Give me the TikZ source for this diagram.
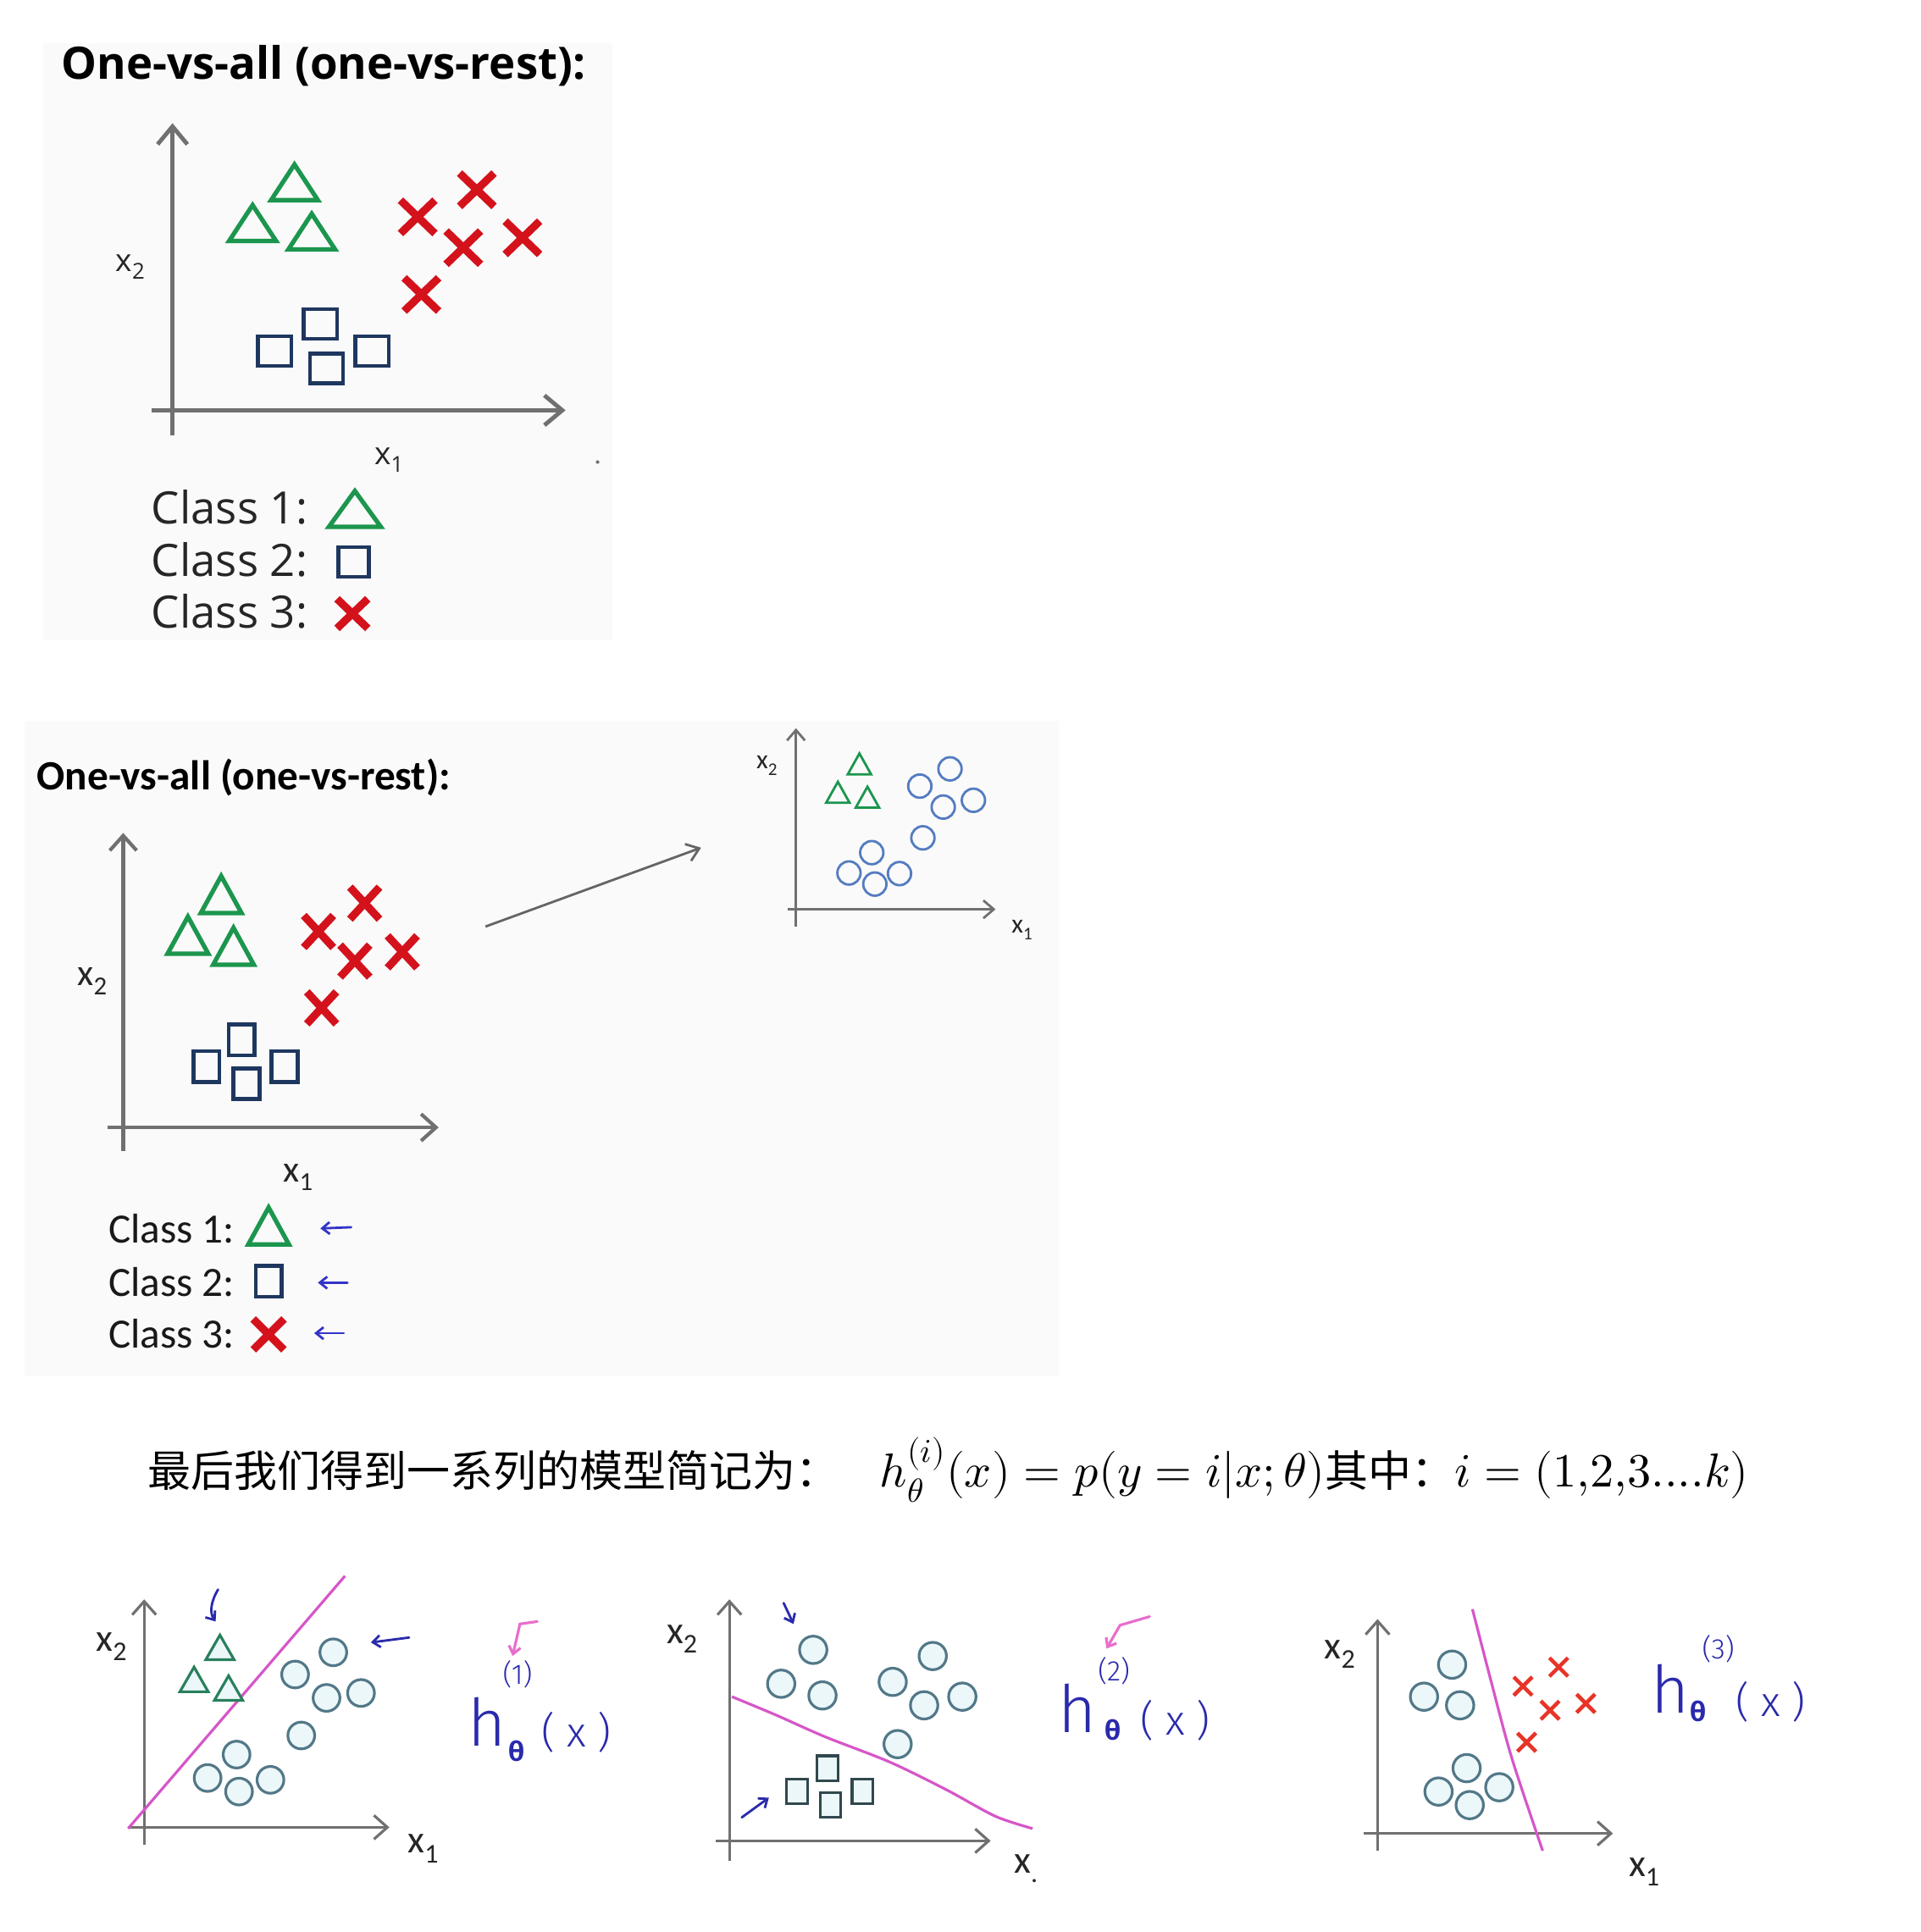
\documentclass[tikz,border=0pt]{standalone}
\usepackage{fontspec}
\usepackage{unicode-math}
\setmathfont{Latin Modern Math}
\newfontfamily\osans{Open Sans}
\newfontfamily\carl{Carlito}
\newfontfamily\cjk{Noto Sans CJK SC}
\newfontfamily\hand{Fira Sans Light}
\usetikzlibrary{arrows.meta}
\definecolor{bgc}{RGB}{250,250,250}
\definecolor{axc}{RGB}{112,112,112}
\definecolor{grn}{RGB}{28,150,78}
\definecolor{rd}{RGB}{212,18,28}
\definecolor{nvy}{RGB}{30,55,95}
\definecolor{cblue}{RGB}{84,124,192}
\definecolor{cteal}{RGB}{82,120,136}
\definecolor{cfill}{RGB}{236,247,250}
\definecolor{tgrn}{RGB}{40,128,92}
\definecolor{sqd}{RGB}{48,72,78}
\definecolor{xred}{RGB}{232,52,40}
\definecolor{pnk}{RGB}{214,86,200}
\definecolor{pnka}{RGB}{232,110,205}
\definecolor{hblue}{RGB}{42,42,172}
\definecolor{ablue}{RGB}{52,52,200}
\newcommand\mkTri[5]{\draw[#1] ({#2},{#3-(#5)/2}) -- ({#2+(#4)/2},{#3+(#5)/2}) -- ({#2-(#4)/2},{#3+(#5)/2}) -- cycle;}
\newcommand\mkSq[5]{\draw[#1] ({#2-(#4)/2},{#3-(#5)/2}) rectangle ({#2+(#4)/2},{#3+(#5)/2});}
\newcommand\mkCr[5]{\draw[#1] ({#2-(#4)/2},{#3-(#5)/2}) -- ({#2+(#4)/2},{#3+(#5)/2}) ({#2-(#4)/2},{#3+(#5)/2}) -- ({#2+(#4)/2},{#3-(#5)/2});}
\tikzset{
 axA/.style={draw=axc, line width=1.4pt, -{Straight Barb[length=6pt,width=10pt]}},
 axB/.style={draw=axc, line width=1.2pt, -{Straight Barb[length=5pt,width=9pt]}},
 axS/.style={draw=axc, line width=0.8pt, -{Straight Barb[length=3.5pt,width=6pt]}},
 axH/.style={draw=axc, line width=0.9pt, -{Straight Barb[length=4.5pt,width=8pt]}},
 triA/.style={draw=grn, line width=1.5pt},
 sqA/.style={draw=nvy, line width=1.3pt},
 crA/.style={draw=rd, line width=2.6pt},
 triS/.style={draw=grn, line width=0.8pt},
 ciS/.style={draw=cblue, line width=0.8pt},
 ciH/.style={draw=cteal, fill=cfill, line width=0.9pt},
 triH/.style={draw=tgrn, fill=cfill, line width=0.9pt},
 sqH/.style={draw=sqd, fill=cfill, line width=0.9pt},
 crH/.style={draw=xred, line width=1.3pt},
 sep/.style={draw=pnk, line width=0.9pt},
 hnd/.style={draw=hblue, line width=0.8pt, line cap=round, -{Straight Barb[length=2.5pt,width=4pt]}},
 pka/.style={draw=pnka, line width=0.9pt, line cap=round, -{Straight Barb[length=2.5pt,width=4pt]}},
 txt/.style={inner sep=0pt, outer sep=0pt},
 labO/.style={txt, font=\osans\fontsize{10.5}{12}\selectfont, text=black!85},
 labC/.style={txt, font=\carl\fontsize{12.5}{15}\selectfont, text=black!85},
 labCs/.style={txt, font=\carl\fontsize{9}{11}\selectfont, text=black!85},
 labH/.style={txt, font=\carl\fontsize{13}{15}\selectfont, text=black!85},
 legO/.style={txt, anchor=base west, font=\osans\fontsize{15}{18}\selectfont, text=black!85},
 legC/.style={txt, anchor=base west, font=\carl\fontsize{14}{17}\selectfont, text=black!90},
 hh/.style={txt, font=\hand\fontsize{22}{24}\selectfont, text=hblue},
 hth/.style={txt, font=\osans\bfseries\fontsize{9}{10}\selectfont, text=hblue},
 hx/.style={txt, font=\hand\fontsize{14}{16}\selectfont, text=hblue},
 hi/.style={txt, font=\hand\fontsize{9.5}{10}\selectfont, text=hblue},
}
\begin{document}
\begin{tikzpicture}[x=0.014548cm,y=-0.014548cm]
\useasboundingbox (0,0) rectangle (1559,1568);
\fill[white] (0,0) rectangle (1559,1568);
% ================= panel 1 =================
\fill[bgc] (35,35) rectangle (497,520);
\node[txt, anchor=base west, font=\osans\bfseries\fontsize{15}{18}\selectfont] (t1) at (50,64) {One-vs-all (one-vs-rest):};
\draw[axA] (140,353) -- (140,100);
\draw[axA] (123,333) -- (459,333);
\node[labO, anchor=base west] (p1x2) at (94,220) {x\textsubscript{2}};
\node[labO, anchor=base west] (p1x1) at (304,377) {x\textsubscript{1}};
\mkTri{triA}{239}{148}{38}{29}
\mkTri{triA}{205}{181}{38}{29}
\mkTri{triA}{253}{188}{38}{29}
\mkCr{crA}{387}{154}{28}{27}
\mkCr{crA}{339}{176}{28}{27}
\mkCr{crA}{376}{201}{28}{27}
\mkCr{crA}{424}{193}{28}{27}
\mkCr{crA}{342}{239}{28}{27}
\mkSq{sqA}{223}{285}{27}{24}
\mkSq{sqA}{260}{263}{27}{24}
\mkSq{sqA}{265}{299}{27}{24}
\mkSq{sqA}{302}{285}{27}{24}
\node[legO] (c11) at (123,425) {Class 1:};
\node[legO] (c12) at (123,468) {Class 2:};
\node[legO] (c13) at (123,510) {Class 3:};
\mkTri{triA}{288}{413}{42}{29}
\mkSq{sqA}{287}{456}{25}{24}
\mkCr{crA}{286}{498}{25}{24}
\fill[axc] (485,375) circle[radius=0.6pt];
% ================= panel 2 =================
\fill[bgc] (20,585) rectangle (859,1117);
\node[txt, anchor=base west, font=\carl\bfseries\fontsize{14}{17}\selectfont] (t2) at (30,641) {One-vs-all (one-vs-rest):};
\draw[axB] (100,934) -- (100,676);
\draw[axB] (87,915) -- (356,915);
\node[labC, anchor=base west] (p2x2) at (63,800) {x\textsubscript{2}};
\node[labC, anchor=base west] (p2x1) at (230,959) {x\textsubscript{1}};
\mkTri{triA}{179.5}{726}{33}{30}
\mkTri{triA}{152.5}{759}{33}{30}
\mkTri{triA}{189.5}{768}{33}{30}
\mkCr{crA}{296}{733}{24}{26}
\mkCr{crA}{258.5}{756}{24}{26}
\mkCr{crA}{288}{780}{24}{26}
\mkCr{crA}{326.5}{772.5}{24}{26}
\mkCr{crA}{261}{818}{24}{26}
\mkSq{sqA}{167.5}{865.5}{21}{25}
\mkSq{sqA}{196}{844}{21}{25}
\mkSq{sqA}{200}{879.5}{21}{25}
\mkSq{sqA}{231}{865.5}{21}{25}
\node[legC] (c21) at (88,1009) {Class 1:};
\node[legC] (c22) at (88,1052) {Class 2:};
\node[legC] (c23) at (88,1094) {Class 3:};
\mkTri{triA}{218}{995}{33}{30}
\mkSq{sqA}{218}{1040}{21}{25}
\mkCr{crA}{218}{1083}{25}{25}
\coordinate (a1s) at (285,996); \coordinate (a1e) at (260,997);
\coordinate (a2s) at (282,1041); \coordinate (a2e) at (258,1041);
\coordinate (a3s) at (279,1082); \coordinate (a3e) at (255,1082);
\draw[hnd, draw=ablue] (a1s) -- (a1e);
\draw[hnd, draw=ablue] (a2s) -- (a2e);
\draw[hnd, draw=ablue] (a3s) -- (a3e);
\coordinate (gs) at (394,752); \coordinate (ge) at (569,688);
\draw[draw=axc!90!black, line width=0.8pt, -{Straight Barb[length=4pt,width=6pt]}] (gs) -- (ge);
% small plot
\draw[axS] (646,752) -- (646,591);
\draw[axS] (639,738) -- (808,738);
\node[labCs, anchor=base west] (spx2) at (614,624) {x\textsubscript{2}};
\node[labCs, anchor=base west] (spx1) at (821,757) {x\textsubscript{1}};
\mkTri{triS}{697.5}{620}{19}{17}
\mkTri{triS}{680}{643}{19}{17}
\mkTri{triS}{704}{647}{19}{17}
\foreach \p in {(771,624),(746.5,638),(765.5,655),(790,649.5),(749,680),(707.5,692),(689,708.5),(710,717.5),(730,709)}{
  \draw[ciS] \p circle[radius=3.9pt];}
% ================= formula =================
\node[txt, anchor=base west, font=\cjk\fontsize{14.5}{17}\selectfont] (fm) at (120,1207) {最后我们得到一系列的模型简记为：\hspace{0.95em}{\fontsize{16}{19}\selectfont$h_{\theta}^{(i)}(x)=p(y=i|x;\theta)$}其中：{\fontsize{16}{19}\selectfont$i=(1{,}2{,}3....k)$}};
% ================= bottom A =================
\draw[axH] (117,1497) -- (117,1298);
\draw[axH] (104,1483) -- (316,1483);
\node[labH, anchor=base west] (ax2) at (78,1340) {x\textsubscript{2}};
\node[labH, anchor=base west] (ax1) at (331,1504) {x\textsubscript{1}};
\draw[sep] (104,1484) -- (280,1279);
\mkTri{triH}{178.5}{1337}{23}{20}
\mkTri{triH}{157.5}{1363}{23}{20}
\mkTri{triH}{185.5}{1370}{23}{20}
\foreach \p in {(270.5,1341),(239.5,1359),(265,1378),(293,1374),(244.5,1408.5),(192,1424),(168.5,1443),(194,1454),(219.5,1444.5)}{
  \draw[ciH] \p circle[radius=4.5pt];}
\coordinate (bA1s) at (177,1290); \coordinate (bA1e) at (175,1316);
\draw[hnd] (bA1s) .. controls (171,1300) and (170,1309) .. (bA1e);
\coordinate (bA2s) at (332,1329); \coordinate (bA2e) at (301,1333);
\draw[hnd] (bA2s) -- (bA2e);
\node[hh, anchor=base west] (hA) at (380,1417) {h};
\node[hth] (thA) at (419,1421) {θ};
\node[hx] (xA) at (468,1406) {(\;x\;)};
\node[hi] (iA) at (420,1359) {(1)};
\coordinate (pA1) at (436,1316); \coordinate (pA2) at (422,1318); \coordinate (pA3) at (416,1344);
\draw[pka] (pA1) -- (pA2) -- (pA3);
% ================= bottom B =================
\draw[axH] (592,1510) -- (592,1298);
\draw[axH] (581,1494) -- (804,1494);
\node[labH, anchor=base west] (bx2) at (541,1334) {x\textsubscript{2}};
\node[labH, anchor=base west] (bx1) at (823,1520) {x\textsubscript{.}};
\draw[sep] plot[smooth] coordinates {(594,1377) (630,1392) (669.5,1409.5) (722,1430) (768,1452.5) (807.7,1474) (838,1484)};
\foreach \p in {(660,1339),(634,1366.5),(667.5,1376),(757,1344),(724.5,1365),(750,1384),(781,1377),(728.5,1415.5)}{
  \draw[ciH] \p circle[radius=4.6pt];}
\mkSq{sqH}{671.5}{1435}{17}{20}
\mkSq{sqH}{647}{1454}{17}{20}
\mkSq{sqH}{674}{1465}{17}{20}
\mkSq{sqH}{700}{1454}{17}{20}
\coordinate (bB1s) at (636,1301); \coordinate (bB1e) at (644,1318);
\draw[hnd] (bB1s) -- (bB1e);
\coordinate (bB2s) at (602,1475); \coordinate (bB2e) at (624,1459);
\draw[hnd] (bB2s) -- (bB2e);
\node[hh, anchor=base west] (hB) at (859,1406) {h};
\node[hth] (thB) at (903,1404) {θ};
\node[hx] (xB) at (954,1396) {(\;x\;)};
\node[hi] (iB) at (904,1356) {(2)};
\coordinate (pB1) at (933,1312); \coordinate (pB2) at (909,1319); \coordinate (pB3) at (898,1338);
\draw[pka] (pB1) -- (pB2) -- (pB3);
% ================= bottom C =================
\draw[axH] (1118,1502) -- (1118,1314);
\draw[axH] (1107,1488) -- (1309,1488);
\node[labH, anchor=base west] (cx2) at (1075,1346) {x\textsubscript{2}};
\node[labH, anchor=base west] (cx1) at (1322,1523) {x\textsubscript{1}};
\draw[sep] plot[smooth] coordinates {(1195,1306) (1210,1364) (1227,1427) (1252,1502)};
\foreach \p in {(1178.5,1351),(1155.7,1377),(1185,1384),(1190.3,1435),(1167.5,1454),(1192.8,1465),(1216.8,1450.5)}{
  \draw[ciH] \p circle[radius=4.6pt];}
\mkCr{crH}{1265}{1353}{15}{15}
\mkCr{crH}{1236}{1368.5}{15}{15}
\mkCr{crH}{1258}{1388}{15}{15}
\mkCr{crH}{1287}{1382.5}{15}{15}
\mkCr{crH}{1239}{1414}{15}{15}
\node[hh, anchor=base west] (hC) at (1340,1390) {h};
\node[hth] (thC) at (1378,1389) {θ};
\node[hx] (xC) at (1437,1381) {(\;x\;)};
\node[hi] (iC) at (1394.5,1338) {(3)};
\end{tikzpicture}
\end{document}
